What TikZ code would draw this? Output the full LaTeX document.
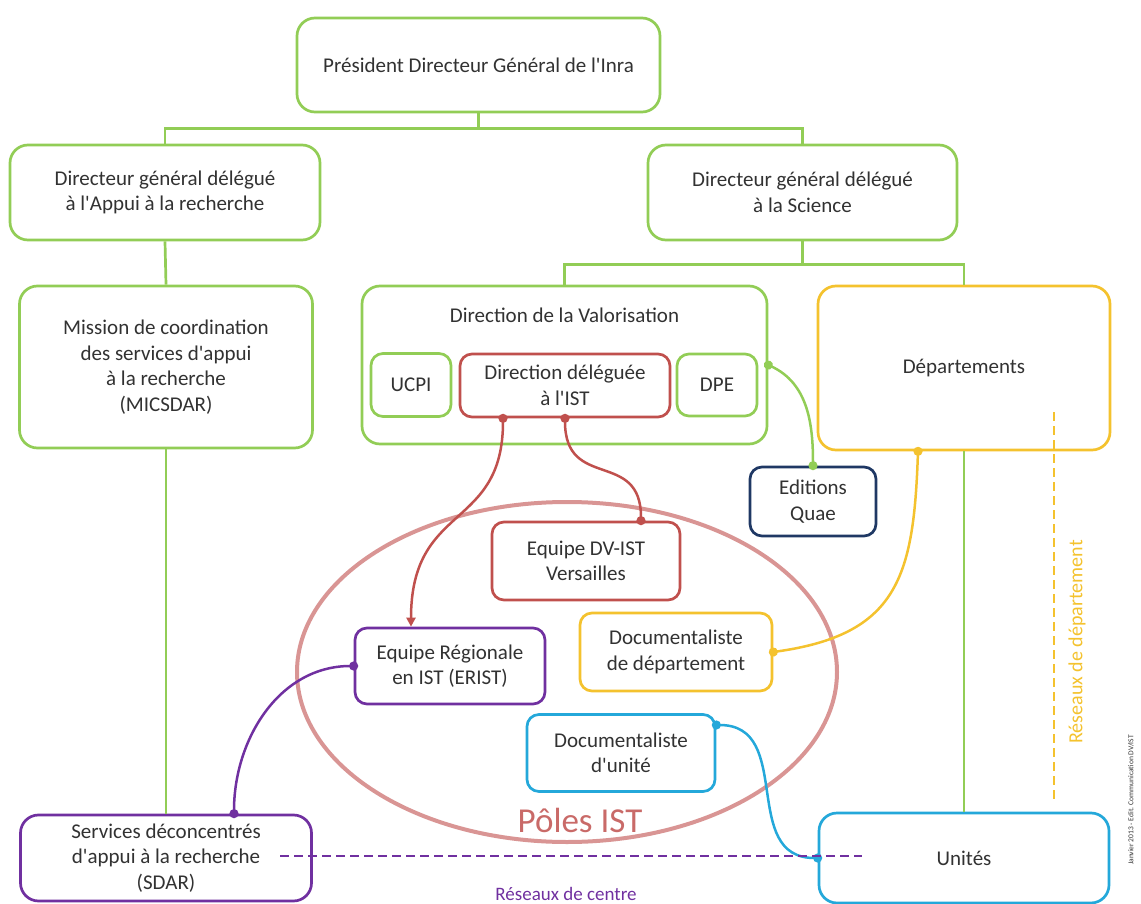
\documentclass[tikz,border=0pt]{standalone}
\usepackage{fontspec}
\setmainfont{Carlito}
\usetikzlibrary{positioning,shapes.geometric,arrows.meta}
\definecolor{vert}{RGB}{146,205,86}
\definecolor{rouge}{RGB}{192,80,77}
\definecolor{violet}{RGB}{112,48,160}
\definecolor{jaune}{RGB}{244,194,46}
\definecolor{cyan}{RGB}{36,168,218}
\definecolor{marine}{RGB}{31,56,100}
\definecolor{rose}{RGB}{217,149,148}
\definecolor{texte}{RGB}{50,50,50}
\newcommand{\ap}{\textquotesingle}
\tikzset{
  bx/.style={rectangle, rounded corners=18pt, line width=2.7pt, fill=white, text=texte, align=center, inner sep=0pt, font=\fontsize{21}{25.5}\selectfont},
  gb/.style={bx, draw=vert},
  rb/.style={bx, draw=rouge, rounded corners=12pt},
  pb/.style={bx, draw=violet, rounded corners=12pt},
  yb/.style={bx, draw=jaune},
  cb/.style={bx, draw=cyan},
  nb/.style={bx, draw=marine, rounded corners=12pt},
  sb/.style={gb, rounded corners=12pt},
  tree/.style={draw=vert, line width=2.7pt},
  dotlink/.style={line width=2.5pt, {Circle[length=9pt]}-{Circle[length=9pt]}, shorten <=-4.5pt, shorten >=-4.5pt},
  reseau/.style={line width=1.5pt, dash pattern=on 9pt off 5pt}
}
\begin{document}
\begin{tikzpicture}[x=1pt,y=-1pt]
	\useasboundingbox (0,0) rectangle (1141,904);
	\node[draw=rose, line width=4pt, ellipse, minimum width=540pt, minimum height=340pt] (poles) at (567,672) {};
	\node[text=rouge!85, font=\fontsize{35}{40}\selectfont] (polest) at (580,820) {Pôles IST};
	%
	\node[gb, minimum width=363pt, minimum height=94pt] (pdg) at (478.5,65) {Président Directeur Général de l\ap Inra};
	\node[gb, minimum width=310pt, minimum height=95pt] (dga) at (165,192.5) {Directeur général délégué\\à l\ap Appui à la recherche};
	\node[gb, minimum width=309pt, minimum height=95pt] (dgs) at (802.5,192.5) {Directeur général délégué\\à la Science};
	\node[gb, minimum width=293pt, minimum height=162pt] (mic) at (166,367) {Mission de coordination\\des services d\ap appui\\à la recherche\\(MICSDAR)};
	\node[gb, minimum width=405pt, minimum height=158pt] (dv) at (564.5,365) {};
	\node[text=texte, font=\fontsize{21}{25.5}\selectfont] (dvt) at (564.5,315) {Direction de la Valorisation};
	\node[sb, minimum width=80pt, minimum height=63pt] (ucpi) at (411,385) {UCPI};
	\node[rb, minimum width=210pt, minimum height=63pt] (dd) at (565,385.5) {Direction déléguée\\à l\ap IST};
	\node[sb, minimum width=80pt, minimum height=62pt] (dpe) at (717,385) {DPE};
	\node[yb, minimum width=292pt, minimum height=164pt] (dep) at (964,368) {Départements};
	\node[nb, minimum width=126pt, minimum height=69pt] (quae) at (813,501.5) {Editions\\Quae};
	\node[rb, minimum width=188pt, minimum height=78pt] (eqdv) at (586,561) {Equipe DV-IST\\Versailles};
	\node[pb, minimum width=190pt, minimum height=76pt] (erist) at (450,666) {Equipe Régionale\\en IST (ERIST)};
	\node[yb, rounded corners=12pt, minimum width=192pt, minimum height=78pt] (docdep) at (676,652) {Documentaliste\\de département};
	\node[cb, rounded corners=12pt, minimum width=188pt, minimum height=77pt] (docu) at (621,753) {Documentaliste\\d\ap unité};
	\node[pb, rounded corners=18pt, minimum width=291pt, minimum height=86pt] (sdar) at (166,858) {Services déconcentrés\\d\ap appui à la recherche\\(SDAR)};
	\node[cb, minimum width=290pt, minimum height=90pt] (uni) at (964,858) {Unités};
	%
	\draw[tree] (pdg.south) -- ++(0,15) -| (dga.north);
	\draw[tree] (pdg.south) -- ++(0,15) -| (dgs.north);
	\draw[tree] (dga.south) -- (mic.north);
	\draw[tree] (mic.south) -- (sdar.north);
	\draw[tree] (dgs.south) -- ++(0,23) -| (dv.north);
	\draw[tree] (dgs.south) -- ++(0,23) -| (dep.north);
	\draw[tree] (dep.south) -- (uni.north);
	%
	\draw[dotlink, vert] (dv.east) to[out=-25,in=90] (quae.north);
	\draw[dotlink, jaune] ([xshift=-46pt]dep.south) to[out=-92,in=8,looseness=1.3] (docdep.east);
	\draw[line width=2.5pt, rouge, {Circle[length=9pt]}-{Triangle[length=9pt,width=9pt]}, shorten <=-4.5pt] ([xshift=-62pt]dd.south) .. controls +(0,113) and +(0,-125) .. ([xshift=-39pt]erist.north);
	\draw[dotlink, rouge] (dd.south) .. controls +(0,73) and +(0,-72) .. ([xshift=55pt]eqdv.north);
	\draw[dotlink, violet] (erist.west) to[out=180,in=90] ([xshift=68pt]sdar.north);
	\draw[dotlink, cyan] ([yshift=28pt]docu.east) to[out=0,in=180,looseness=1.2] (uni.west);
	%
	\coordinate (rcw) at (280,856);
	\coordinate (rce) at (862,856);
	\draw[reseau, violet] (rcw) -- (rce);
	\node[text=violet, font=\fontsize{19}{22}\selectfont] (rct) at (566,894) {Réseaux de centre};
	\coordinate (rdn) at (1054,412);
	\coordinate (rds) at (1054,800);
	\draw[reseau, jaune] (rdn) -- (rds);
	\node[rotate=90, text=jaune, font=\fontsize{20}{23}\selectfont] (rdt) at (1077,642) {Réseaux de département};
	\node[rotate=90, text=texte, font=\fontsize{7.5}{9}\selectfont] (credit) at (1131,800) {Janvier 2013 - Edit. Communication DV/IST};
\end{tikzpicture}
\end{document}
